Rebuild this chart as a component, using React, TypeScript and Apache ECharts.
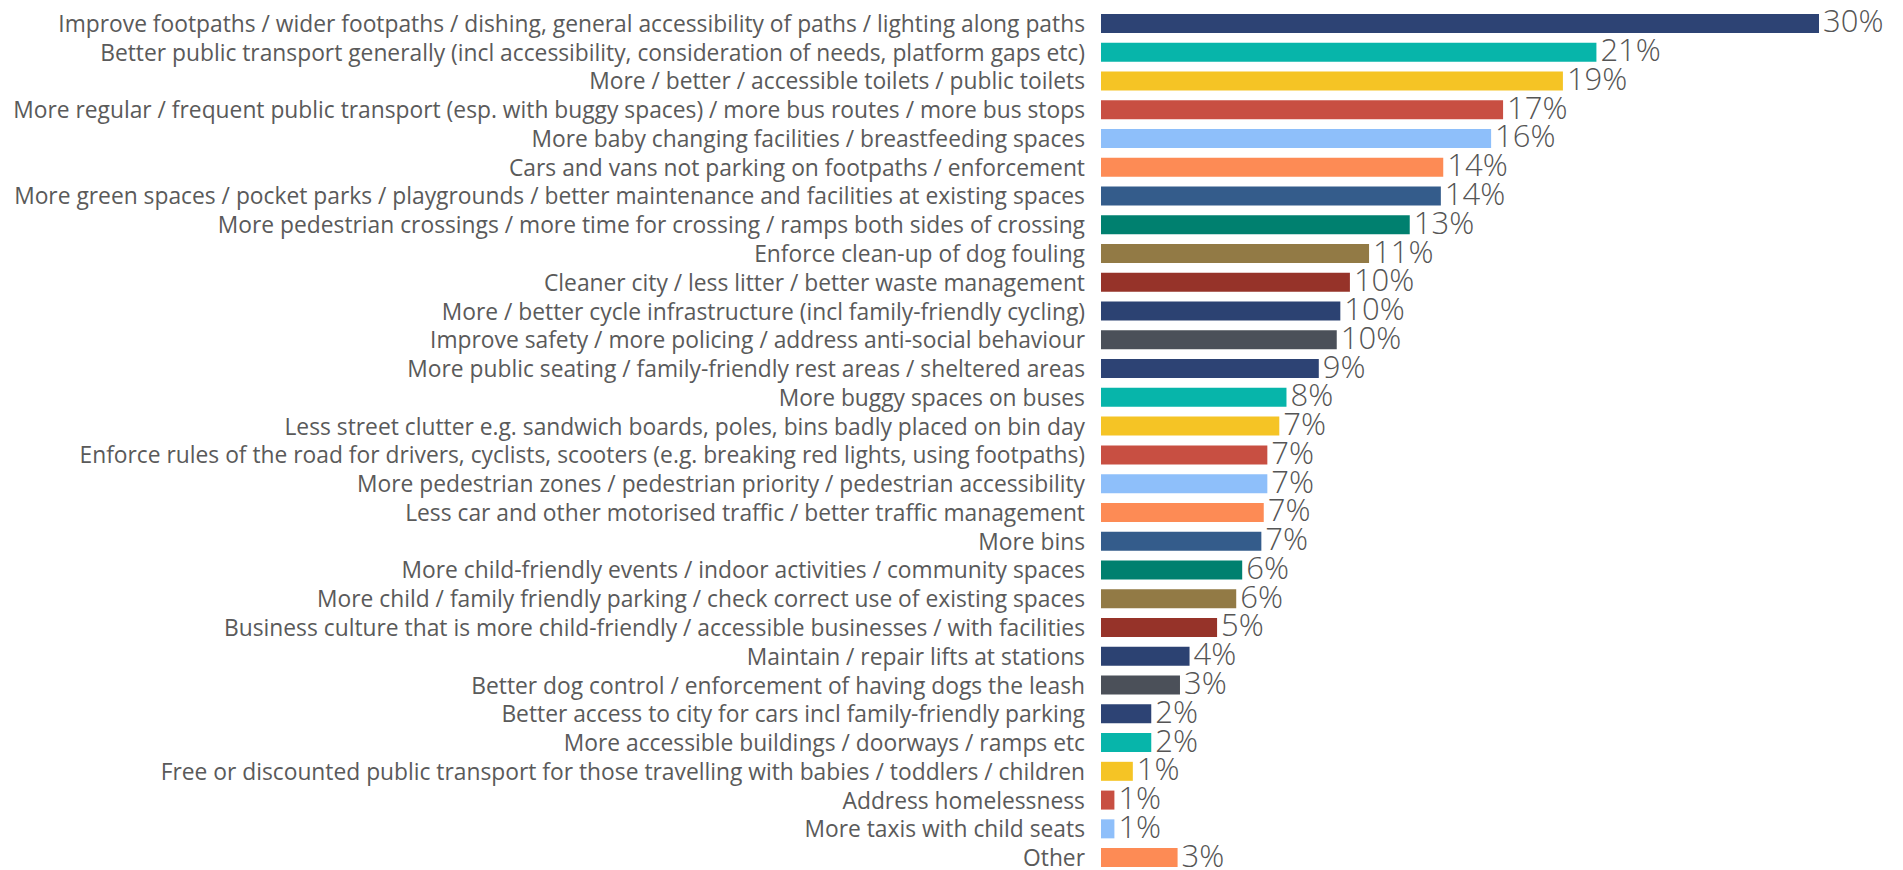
import React, { useEffect, useRef } from "react";
import * as echarts from "echarts";

const categories: string[] = [
  "Improve footpaths / wider footpaths / dishing, general accessibility of paths / lighting along paths",
  "Better public transport generally (incl accessibility, consideration of needs, platform gaps etc)",
  "More / better / accessible toilets / public toilets",
  "More regular / frequent public transport (esp. with buggy spaces) / more bus routes / more bus stops",
  "More baby changing facilities / breastfeeding spaces",
  "Cars and vans not parking on footpaths / enforcement",
  "More green spaces / pocket parks / playgrounds / better maintenance and facilities at existing spaces",
  "More pedestrian crossings / more time for crossing / ramps both sides of crossing",
  "Enforce clean-up of dog fouling",
  "Cleaner city / less litter / better waste management",
  "More / better cycle infrastructure (incl family-friendly cycling)",
  "Improve safety / more policing / address anti-social behaviour",
  "More public seating / family-friendly rest areas / sheltered areas",
  "More buggy spaces on buses",
  "Less street clutter e.g. sandwich boards, poles, bins badly placed on bin day",
  "Enforce rules of the road for drivers, cyclists, scooters (e.g. breaking red lights, using footpaths)",
  "More pedestrian zones / pedestrian priority / pedestrian accessibility",
  "Less car and other motorised traffic / better traffic management",
  "More bins",
  "More child-friendly events / indoor activities / community spaces",
  "More child / family friendly parking / check correct use of existing spaces",
  "Business culture that is more child-friendly / accessible businesses / with facilities",
  "Maintain / repair lifts at stations",
  "Better dog control / enforcement of having dogs the leash",
  "Better access to city for cars incl family-friendly parking",
  "More accessible buildings / doorways / ramps etc",
  "Free or discounted public transport for those travelling with babies / toddlers / children",
  "Address homelessness",
  "More taxis with child seats",
  "Other",
];

const values: number[] = [
  30.0, 20.7, 19.3, 16.8, 16.3, 14.3, 14.2, 12.9, 11.2, 10.4, 10.0, 9.85, 9.1,
  7.75, 7.45, 6.95, 6.95, 6.8, 6.7, 5.9, 5.65, 4.85, 3.7, 3.3, 2.1, 2.1, 1.33,
  0.56, 0.56, 3.2,
];

const palette: string[] = [
  "#2d4374",
  "#07b5aa",
  "#f5c425",
  "#c84f42",
  "#8ebffa",
  "#fd8b55",
  "#345c8b",
  "#00806f",
  "#927a45",
  "#963329",
  "#2c4272",
  "#4b5059",
];

export default function App() {
  const ref = useRef<HTMLDivElement>(null);

  useEffect(() => {
    if (!ref.current) return;
    const chart = echarts.init(ref.current, null, { renderer: "svg" });
    chart.setOption({
      animation: false,
      backgroundColor: "#ffffff",
      grid: {
        left: 1101,
        right: 84,
        top: 9,
        height: 863,
        containLabel: false,
        outerBoundsMode: "none",
      },
      xAxis: {
        type: "value",
        min: 0,
        max: 30,
        show: false,
      },
      yAxis: {
        type: "category",
        inverse: true,
        data: categories,
        axisLine: { show: false },
        axisTick: { show: false },
        splitLine: { show: false },
        axisLabel: {
          interval: 0,
          margin: 16,
          fontFamily: "Open Sans",
          fontSize: 22.8,
          lineHeight: 26,
          color: "#5a5a5a",
        },
      },
      series: [
        {
          type: "bar",
          barWidth: 19,
          data: values.map((v, i) => ({
            value: v,
            itemStyle: { color: palette[i % palette.length] },
          })),
          label: {
            show: true,
            position: "right",
            distance: 4,
            offset: [0, -3],
            fontFamily: "Open Sans",
            fontWeight: 300,
            fontSize: 31,
            lineHeight: 24,
            color: "#555555",
            formatter: (p: any) => Math.round(p.value) + "%",
          },
        },
      ],
    });
    return () => chart.dispose();
  }, []);

  return (
    <div
      ref={ref}
      style={{ position: "fixed", left: 0, top: 0, width: 1903, height: 870 }}
    />
  );
}
